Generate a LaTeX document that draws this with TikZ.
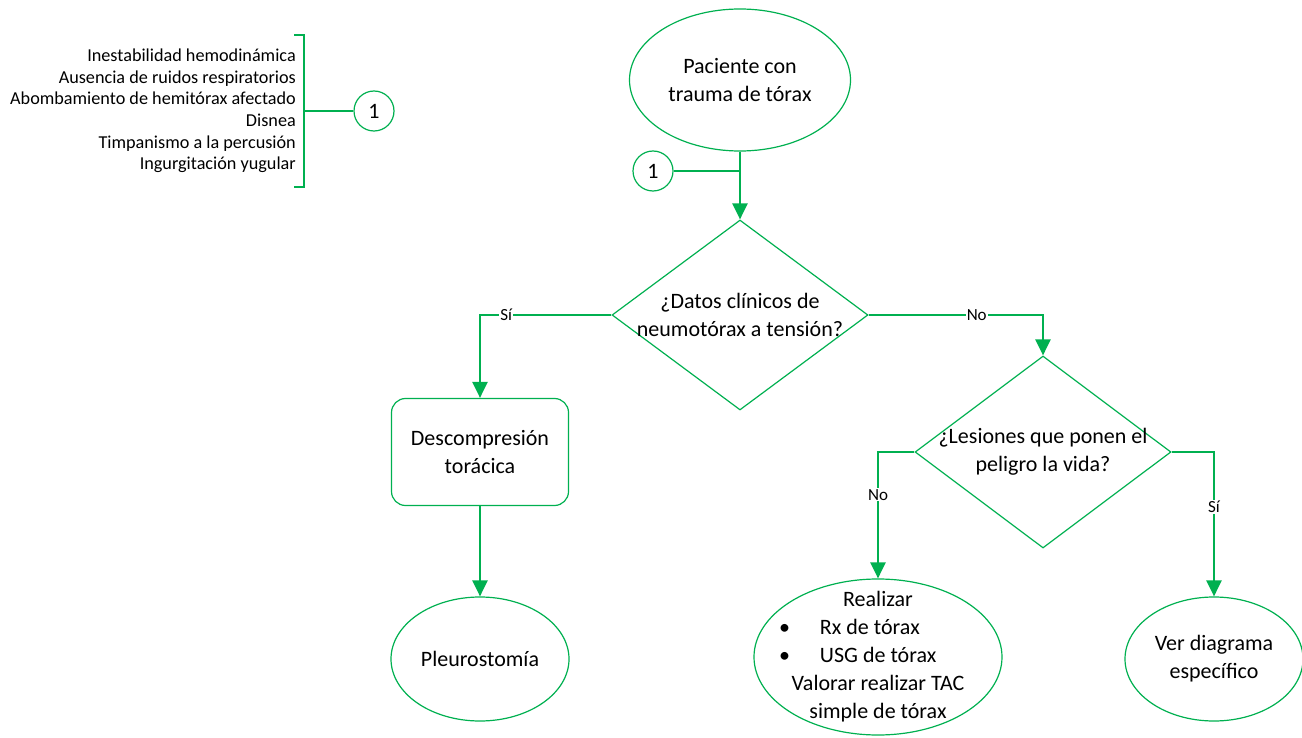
\documentclass[tikz,border=0pt]{standalone}
\usepackage{fontspec}
\setmainfont{Carlito}
\usetikzlibrary{shapes.geometric,arrows.meta}
\definecolor{verde}{HTML}{00B050}
\tikzset{
  caja/.style={draw=verde,line width=1.2pt,align=center,inner sep=0pt,font=\fontsize{22}{28}\selectfont},
  elip/.style={caja,ellipse},
  rombo/.style={caja,diamond,shape aspect=1.35,inner sep=-6pt,minimum width=256pt},
  conec/.style={circle,draw=verde,line width=1.2pt,minimum size=40pt,inner sep=0pt,font=\fontsize{22}{28}\selectfont},
  linea/.style={draw=verde,line width=2.4pt},
  flecha/.style={linea,-{Triangle[width=15pt,length=16pt]}},
  etiq/.style={fill=white,inner sep=1pt,font=\fontsize{17}{20}\selectfont}
}
\begin{document}
\begin{tikzpicture}[x=1pt,y=-1pt]
\useasboundingbox (0,0) rectangle (1302,738);
\node[elip,minimum width=221pt,minimum height=142pt](pac) at (740,80){Paciente con\\trauma de tórax};
\node[conec](c2) at (653,171){1};
\node[rombo,minimum height=190pt](dat) at (740,315){¿Datos clínicos de\\neumotórax a tensión?};
\node[caja,rounded corners=14pt,minimum width=177pt,minimum height=107pt](des) at (480,452){Descompresión\\torácica};
\node[elip,minimum width=178pt,minimum height=124pt](pleu) at (480,659){Pleurostomía};
\node[rombo,minimum height=192pt](les) at (1043,452){¿Lesiones que ponen el\\peligro la vida?};
\node[elip,inner xsep=-12pt,inner ysep=-16pt,minimum width=248pt,minimum height=156pt](rea) at (878,657){Realizar\\
  \makebox[198pt][l]{\makebox[41pt][l]{\textbullet}Rx de tórax}\\
  \makebox[198pt][l]{\makebox[41pt][l]{\textbullet}USG de tórax}\\
  Valorar realizar TAC\\simple de tórax};
\node[elip,minimum width=178pt,minimum height=124pt](ver) at (1214,659){Ver diagrama\\específico};
\node[align=right,anchor=east,inner sep=0pt,font=\fontsize{18.2}{21.6}\selectfont](dc) at (296,111){Inestabilidad hemodinámica\\Ausencia de ruidos respiratorios\\Abombamiento de hemitórax afectado\\Disnea\\Timpanismo a la percusión\\Ingurgitación yugular};
\node[conec](c1) at (374,111){1};
\coordinate (b1) at (304,35);
\coordinate (b2) at (304,187);
\coordinate (bm) at (304,111);
\draw[draw=verde,line width=1.4pt] (b1) ++(-10,0) -- (b1) -- (b2) -- ++(-10,0);
\draw[linea] (bm) -- (c1);
\draw[flecha] (pac) -- (dat);
\draw[linea] (c2) -- (c2 -| pac.south);
\draw[flecha] (dat.west) -| node[etiq,pos=0.4]{Sí} (des.north);
\draw[flecha] (des) -- (pleu);
\draw[flecha] (dat.east) -| node[etiq,pos=0.31]{No} (les.north);
\draw[flecha] (les.west) -| node[etiq,pos=0.67]{No} (rea.north);
\draw[flecha] (les.east) -| node[etiq,pos=0.69]{Sí} (ver.north);
\end{tikzpicture}
\end{document}
